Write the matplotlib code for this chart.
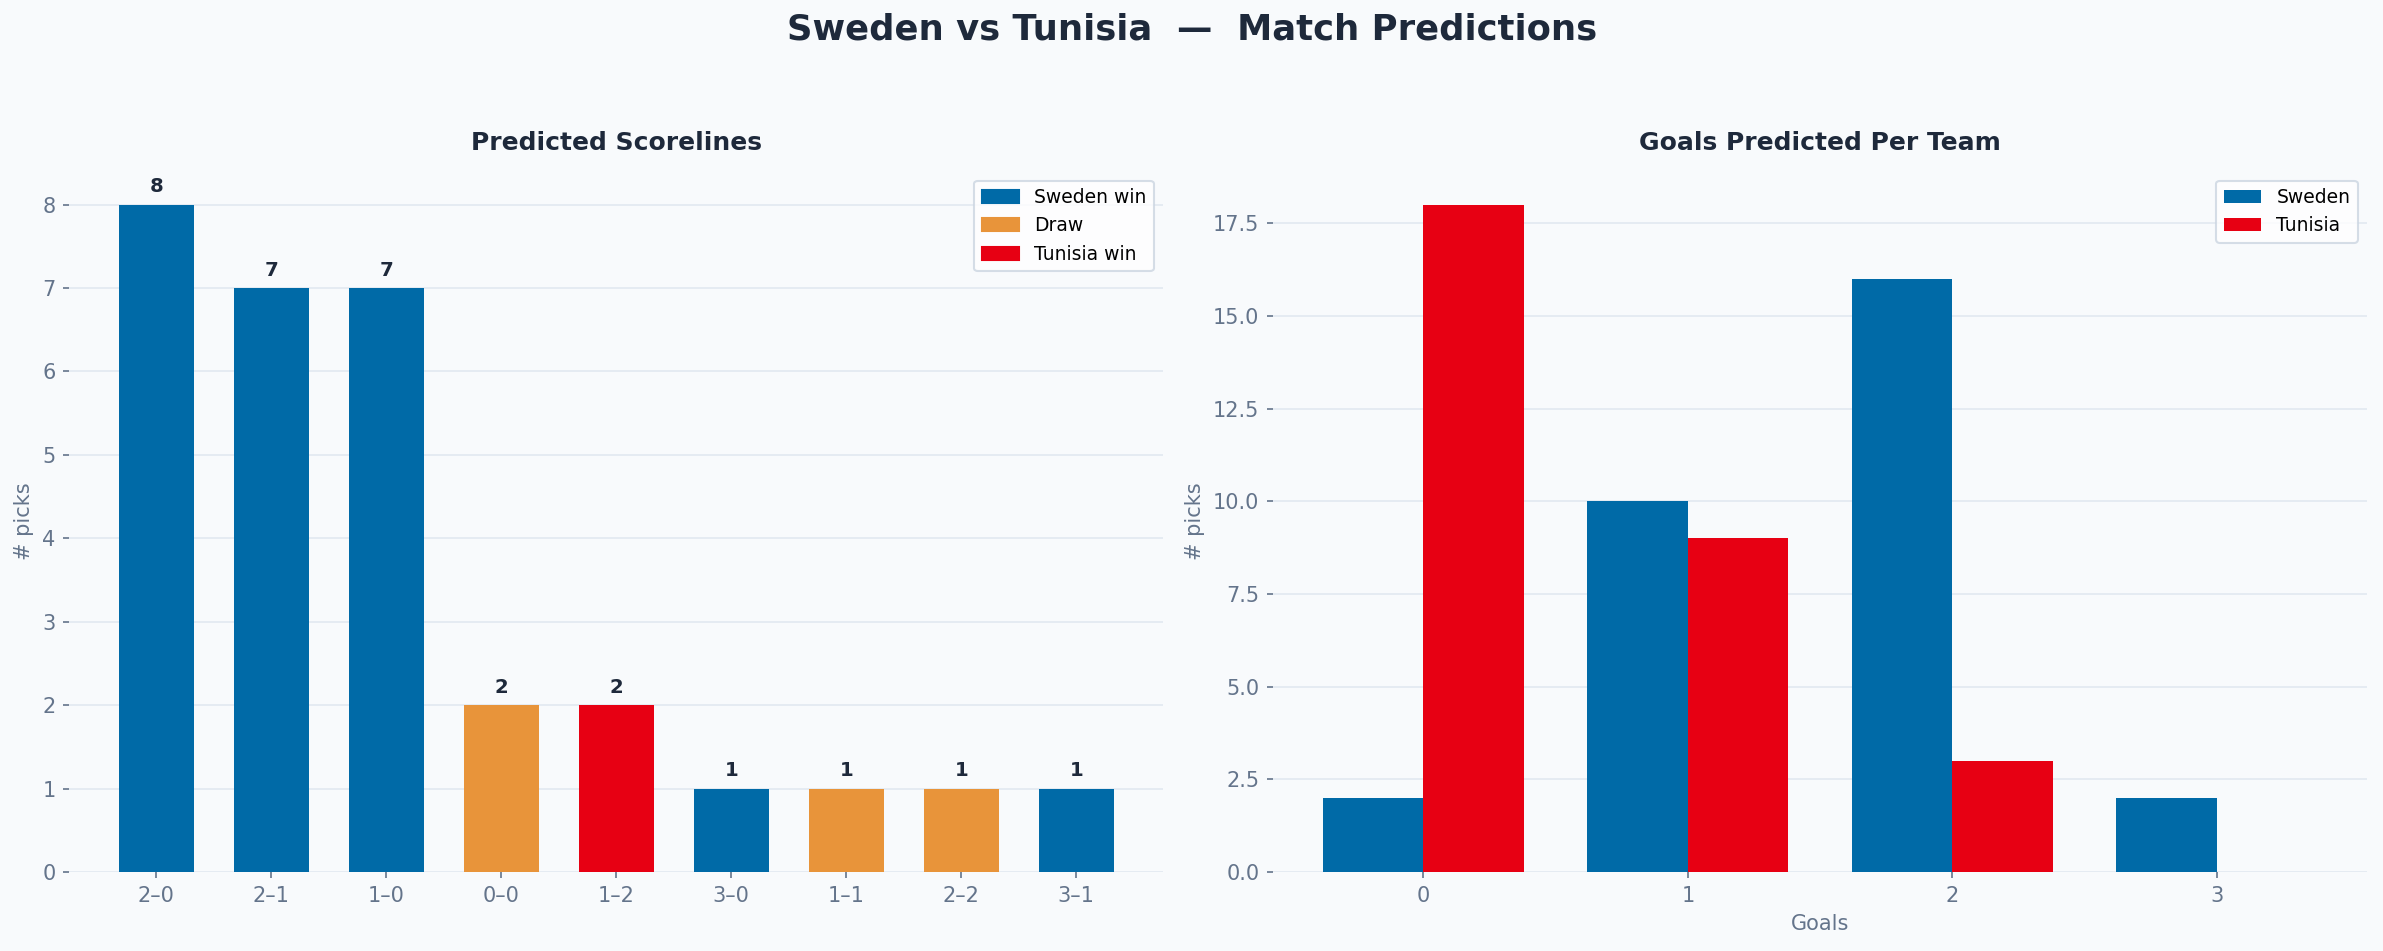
import numpy as np
import matplotlib
matplotlib.use('Agg')
from matplotlib import pyplot as plt
from matplotlib.patches import Patch

# data
scorelines = ['2–0', '2–1', '1–0', '0–0', '1–2', '3–0', '1–1', '2–2', '3–1']
score_picks = [8, 7, 7, 2, 2, 1, 1, 1, 1]
score_outcome = ['S', 'S', 'S', 'D', 'T', 'S', 'D', 'D', 'S']

goals = [0, 1, 2, 3]
sweden_goals = [2, 10, 16, 2]
tunisia_goals = [18, 9, 3, 0]

BLUE = '#006AA7'
RED = '#E70013'
ORANGE = '#E8943A'
BG = '#F8FAFC'
DARK = '#1E293B'
MUTED = '#64748B'
GRID = '#E2E8F0'
outcome_color = {'S': BLUE, 'D': ORANGE, 'T': RED}

fig = plt.figure(figsize=(15.893, 6.34), dpi=150, facecolor=BG)
ax1 = fig.add_axes([0.029, 0.083, 0.459, 0.737])
ax2 = fig.add_axes([0.534, 0.083, 0.459, 0.737])


def style(ax):
    ax.set_facecolor(BG)
    for s in ax.spines.values():
        s.set_visible(False)
    ax.grid(axis='y', color=GRID, linewidth=0.8)
    ax.set_axisbelow(True)
    ax.tick_params(colors=MUTED, labelsize=10, length=3)
    ax.yaxis.label.set_color(MUTED)
    ax.xaxis.label.set_color(MUTED)


# left: scorelines
x = np.arange(len(scorelines))
ax1.bar(x, score_picks, width=0.65, color=[outcome_color[o] for o in score_outcome])
for xi, v in zip(x, score_picks):
    ax1.text(xi, v + 0.1, str(v), ha='center', va='bottom', fontsize=9.5,
             fontweight='bold', color=DARK)
ax1.set_xticks(x)
ax1.set_xticklabels(scorelines)
ax1.set_ylabel('# picks', fontsize=10)
ax1.set_title('Predicted Scorelines', fontsize=12, fontweight='bold', color=DARK, pad=10)
style(ax1)
handles = [Patch(color=BLUE, label='Sweden win'), Patch(color=ORANGE, label='Draw'),
           Patch(color=RED, label='Tunisia win')]
leg = ax1.legend(handles=handles, loc='upper right', fontsize=9, frameon=True)
leg.get_frame().set_edgecolor('#CBD5E1')

# right: goals per team
g = np.array(goals)
w = 0.38
ax2.bar(g - w / 2, sweden_goals, width=w, color=BLUE, label='Sweden')
ax2.bar(g + w / 2, tunisia_goals, width=w, color=RED, label='Tunisia')
ax2.set_xticks(g)
ax2.set_xlabel('Goals', fontsize=10)
ax2.set_ylabel('# picks', fontsize=10)
ax2.set_title('Goals Predicted Per Team', fontsize=12, fontweight='bold', color=DARK, pad=10)
style(ax2)
leg2 = ax2.legend(loc='upper right', fontsize=9, frameon=True)
leg2.get_frame().set_edgecolor('#CBD5E1')

fig.suptitle('Sweden vs Tunisia  —  Match Predictions', fontsize=17, fontweight='bold',
             color=DARK, y=0.987, va='top')

plt.savefig('out.png', dpi=150, facecolor=BG)
